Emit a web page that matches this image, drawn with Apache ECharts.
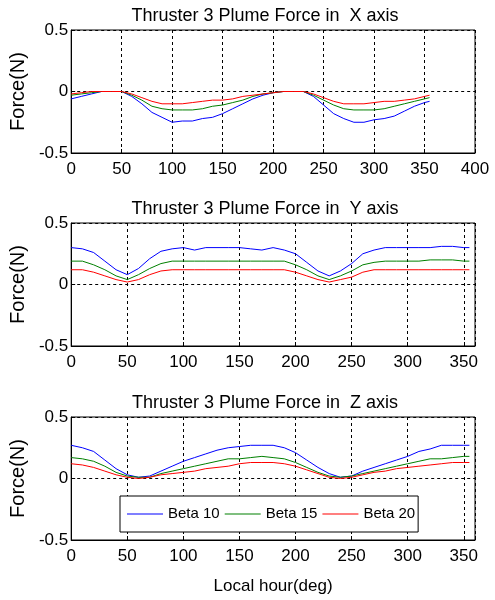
<!DOCTYPE html>
<html><head><meta charset="utf-8">
<script src="https://cdn.jsdelivr.net/npm/echarts@6/dist/echarts.min.js"></script>
<style>html,body{margin:0;padding:0;background:#fff}#c{width:495px;height:600px}</style>
</head><body><div id="c"></div>
<script>
const hours = [0,10,20,30,40,50,60,70,80,90,100,110,120,130,140,150,160,170,180,190,200,210,220,230,240,250,260,270,280,290,300,310,320,330,340,350,355];
const seriesNames = ['Beta 10','Beta 15','Beta 20'];
const titles = ['Thruster 3 Plume Force in  X axis','Thruster 3 Plume Force in  Y axis','Thruster 3 Plume Force in  Z axis'];
const yTicks = [-0.5, 0, 0.5];
const xTicksTop = [0,50,100,150,200,250,300,350,400];
const xTicksOther = [0,50,100,150,200,250,300,350];

const fx10 = [-0.06,-0.04,-0.02,0,0,0,-0.04,-0.10,-0.17,-0.21,-0.25,-0.24,-0.24,-0.22,-0.21,-0.18,-0.14,-0.10,-0.06,-0.03,-0.01,0,0,0,-0.04,-0.11,-0.18,-0.22,-0.25,-0.25,-0.23,-0.22,-0.20,-0.16,-0.12,-0.09,-0.08];
const fx15 = [-0.03,-0.02,-0.01,0,0,0,-0.03,-0.07,-0.12,-0.14,-0.15,-0.15,-0.15,-0.14,-0.12,-0.11,-0.09,-0.07,-0.04,-0.02,-0.01,0,0,0,-0.03,-0.07,-0.11,-0.14,-0.15,-0.15,-0.15,-0.14,-0.12,-0.10,-0.08,-0.06,-0.05];
const fx20 = [-0.02,-0.01,0,0,0,0,-0.02,-0.05,-0.08,-0.10,-0.10,-0.10,-0.09,-0.08,-0.07,-0.07,-0.06,-0.04,-0.03,-0.02,-0.01,0,0,0,-0.02,-0.05,-0.08,-0.10,-0.10,-0.10,-0.09,-0.08,-0.08,-0.07,-0.06,-0.04,-0.03];

const fy10 = [0.30,0.29,0.26,0.19,0.12,0.08,0.13,0.21,0.27,0.29,0.30,0.28,0.30,0.30,0.30,0.30,0.29,0.28,0.30,0.28,0.25,0.18,0.11,0.07,0.11,0.17,0.25,0.28,0.30,0.30,0.30,0.30,0.30,0.31,0.31,0.30,0.30];
const fy15 = [0.19,0.19,0.16,0.12,0.07,0.04,0.08,0.13,0.17,0.19,0.19,0.19,0.19,0.19,0.19,0.19,0.19,0.19,0.19,0.19,0.16,0.12,0.07,0.04,0.07,0.11,0.16,0.18,0.19,0.19,0.19,0.19,0.20,0.20,0.20,0.19,0.19];
const fy20 = [0.12,0.12,0.10,0.07,0.04,0.02,0.04,0.08,0.11,0.12,0.12,0.12,0.12,0.12,0.12,0.12,0.12,0.12,0.12,0.12,0.10,0.07,0.04,0.02,0.04,0.06,0.10,0.12,0.12,0.12,0.12,0.12,0.12,0.12,0.12,0.12,0.12];

const fz10 = [0.27,0.25,0.22,0.15,0.08,0.03,0.01,0.02,0.06,0.10,0.14,0.17,0.20,0.23,0.25,0.26,0.27,0.27,0.27,0.25,0.21,0.15,0.09,0.04,0.01,0.02,0.06,0.09,0.12,0.15,0.18,0.22,0.24,0.27,0.27,0.27,0.27];
const fz15 = [0.17,0.16,0.14,0.10,0.05,0.02,0.01,0.01,0.04,0.06,0.08,0.10,0.12,0.14,0.16,0.16,0.17,0.18,0.17,0.16,0.13,0.09,0.05,0.02,0.01,0.02,0.04,0.06,0.08,0.10,0.12,0.14,0.16,0.16,0.17,0.18,0.18];
const fz20 = [0.12,0.11,0.09,0.06,0.03,0.01,0.00,0.01,0.03,0.04,0.05,0.06,0.08,0.09,0.10,0.12,0.13,0.13,0.13,0.12,0.10,0.07,0.04,0.01,0.00,0.01,0.03,0.05,0.06,0.08,0.09,0.10,0.11,0.12,0.13,0.13,0.13];

const colors = ['#0000ff','#008000','#ff0000'];
const groups = [[fx10,fx15,fx20],[fy10,fy15,fy20],[fz10,fz15,fz20]];
const xMax = [400,360,360];
const tickSets = [xTicksTop, xTicksOther, xTicksOther];
const tops = [30,223,417];
const SANS = '"Liberation Sans", Arial, sans-serif';

const chart = echarts.init(document.getElementById('c'), null, {renderer:'canvas'});
const grid = [], xAxis = [], yAxis = [], series = [], title = [];
for (let g = 0; g < 3; g++) {
  grid.push({left:58.5, right:20, top:tops[g], height:123, show:true, borderColor:'#000', borderWidth:1, backgroundColor:'#fff'});
  const ticks = tickSets[g];
  xAxis.push({type:'value', gridIndex:g, min:0, max:xMax[g], interval:50,
    name: g===2 ? 'Local hour(deg)' : '', nameLocation:'middle', nameGap:38,
    nameTextStyle:{fontFamily:SANS, fontSize:17, color:'#000'},
    axisLine:{show:true, onZero:false, lineStyle:{color:'#000'}},
    axisTick:{show:true, inside:true, length:4, lineStyle:{color:'#000'}},
    axisLabel:{fontFamily:SANS, fontSize:17, color:'#000', margin:8,
      formatter: v => ticks.indexOf(v) >= 0 ? String(v) : ''},
    splitLine:{show:true, lineStyle:{color:'#000', type:[3,3], width:1}}
  });
  yAxis.push({type:'value', gridIndex:g, min:-0.5, max:0.5, interval:0.5,
    name:'Force(N)', nameLocation:'middle', nameGap:32, nameRotate:90,
    nameTextStyle:{fontFamily:SANS, fontSize:20, color:'#000'},
    axisLine:{show:true, onZero:false, lineStyle:{color:'#000'}},
    axisTick:{show:true, inside:true, length:4, lineStyle:{color:'#000'}},
    axisLabel:{fontFamily:SANS, fontSize:17, color:'#000', margin:3,
      formatter: v => yTicks.indexOf(v) >= 0 ? String(v) : ''},
    splitLine:{show:true, lineStyle:{color:'#000', type:[3,3], width:1}}
  });
  title.push({text:titles[g], left:260, textAlign:'center', top:tops[g]-28,
    textStyle:{fontFamily:SANS, fontSize:18, fontWeight:'normal', color:'#000'}});
  for (let s = 0; s < 3; s++) {
    series.push({type:'line', name:seriesNames[s], xAxisIndex:g, yAxisIndex:g,
      data: hours.map((h,i) => [h, groups[g][s][i]]),
      showSymbol:false, symbol:'none', lineStyle:{color:colors[s], width:1}, itemStyle:{color:colors[s]},
      animation:false, z:3});
  }
}
chart.setOption({
  backgroundColor:'#fff',
  animation:false,
  title: title,
  grid: grid, xAxis: xAxis, yAxis: yAxis, series: series,
  legend:{data:seriesNames.map(n => ({name:n, icon:'rect'})), left:120, top:496, orient:'horizontal',
    backgroundColor:'#fff', borderColor:'#000', borderWidth:1, padding:[10,3,10,7],
    itemGap:5, itemWidth:36, itemHeight:1,
    textStyle:{fontFamily:SANS, fontSize:15, color:'#000', padding:[0,0,0,0], lineHeight:16}}
});
</script></body></html>
